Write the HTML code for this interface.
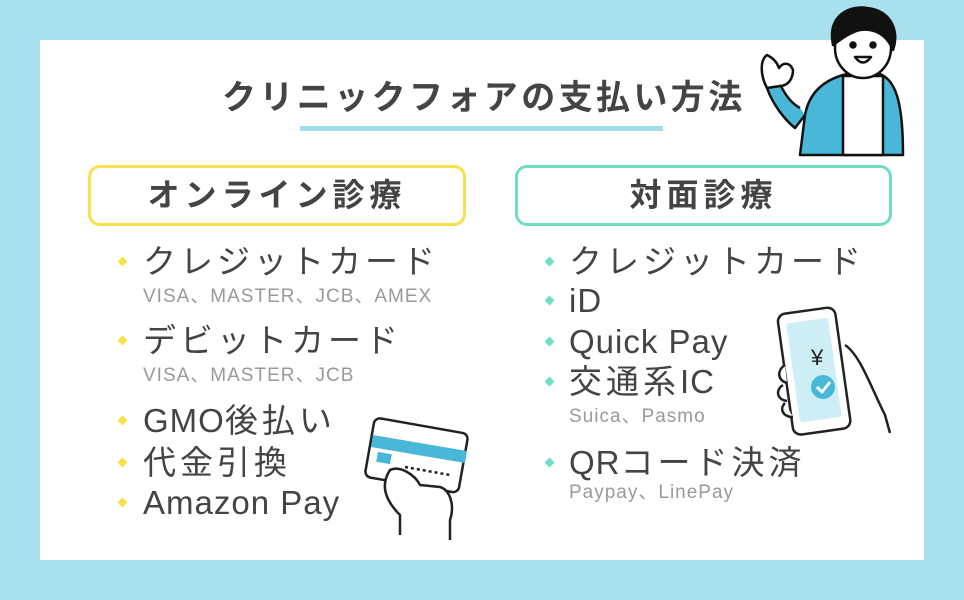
<!DOCTYPE html>
<html><head><meta charset="utf-8"><style>
body{margin:0;width:964px;height:600px;background:#a9e0ee;position:relative;overflow:hidden;font-family:"Liberation Sans","Noto Sans CJK JP",sans-serif;color:#444}
.panel{position:absolute;left:40px;top:40px;width:884px;height:520px;background:#fff}
.t{position:absolute;white-space:nowrap}
.title{left:222px;top:70px;font-size:34px;font-weight:bold;letter-spacing:3.4px}
.ul{position:absolute;left:300px;top:126px;width:363px;height:5px;background:#a2dcec}
.box{position:absolute;top:165px;height:55px;border-radius:12px;font-size:32px;font-weight:bold;text-align:center;line-height:55px;letter-spacing:5px}
.it{font-size:33px;letter-spacing:4px;line-height:1}
.l{letter-spacing:1px}
.sub{font-size:19px;color:#999;letter-spacing:1px;line-height:1}
.d{position:absolute;width:7px;height:7px;transform:rotate(45deg)}
.y{background:#f8e04a}.g{background:#6fdcc4}
</style></head><body>
<div class="panel"></div>
<div class="t title">クリニックフォアの支払い方法</div>
<div class="ul"></div>
<div class="box" style="left:88px;width:372px;border:3px solid #f8e04a">オンライン診療</div>
<div class="box" style="left:515px;width:371px;border:3px solid #6fdcc4">対面診療</div>

<div class="d y" style="left:119px;top:258px"></div><div class="t it" style="left:143px;top:245px">クレジットカード</div>
<div class="t sub" style="left:143px;top:287px">VISA、MASTER、JCB、AMEX</div>
<div class="d y" style="left:119px;top:337px"></div><div class="t it" style="left:143px;top:324px">デビットカード</div>
<div class="t sub" style="left:143px;top:366px">VISA、MASTER、JCB</div>
<div class="d y" style="left:119px;top:417px"></div><div class="t it" style="left:143px;top:404px"><span class="l">GMO</span>後払い</div>
<div class="d y" style="left:119px;top:459px"></div><div class="t it" style="left:143px;top:446px">代金引換</div>
<div class="d y" style="left:119px;top:499px"></div><div class="t it l" style="left:143px;top:486px">Amazon Pay</div>

<div class="d g" style="left:546px;top:258px"></div><div class="t it" style="left:569px;top:245px">クレジットカード</div>
<div class="d g" style="left:546px;top:297px"></div><div class="t it l" style="left:569px;top:284px">iD</div>
<div class="d g" style="left:546px;top:338px"></div><div class="t it l" style="left:569px;top:325px">Quick Pay</div>
<div class="d g" style="left:546px;top:378px"></div><div class="t it" style="left:569px;top:365px">交通系<span class="l">IC</span></div>
<div class="t sub" style="left:569px;top:407px">Suica、Pasmo</div>
<div class="d g" style="left:546px;top:459px"></div><div class="t it" style="left:569px;top:446px"><span class="l">QR</span>コード決済</div>
<div class="t sub" style="left:569px;top:483px">Paypay、LinePay</div>

<svg style="position:absolute;left:355px;top:405px" width="120" height="140">
<g stroke="#222" stroke-width="2.5" fill="#fff" stroke-linejoin="round">
<rect x="14" y="20" width="95" height="60" rx="6" transform="rotate(10 60 50)"/>
<path d="M18 30 L112 46 L110 58 L16 42 Z" fill="#49b8d8" stroke="none"/>
<rect x="22" y="48" width="14" height="10" fill="#49b8d8" stroke="none" transform="rotate(10 29 53)"/>
<path d="M50 62 L95 70" stroke-dasharray="3 3"/>
<path d="M45 130 L45 110 C30 95 25 80 35 65 C45 60 60 70 65 80 L85 82 C95 85 100 100 95 115 L95 135" />
</g></svg>

<svg style="position:absolute;left:775px;top:305px" width="125" height="135">
<g stroke="#222" stroke-width="2.5" stroke-linejoin="round">
<rect x="10" y="5" width="58" height="122" rx="8" fill="#fff" transform="rotate(-8 40 65)"/>
<rect x="18" y="15" width="42" height="100" rx="3" fill="#cdeef5" stroke="none" transform="rotate(-8 40 65)"/>
<circle cx="48" cy="82" r="12" fill="#49b8d8" stroke="none"/>
<path d="M42 82 L47 87 L55 77" stroke="#fff" fill="none" stroke-width="3"/>
<text x="36" y="60" font-size="22" font-family="Liberation Sans" fill="#222" stroke="none">¥</text>
<path d="M70 40 C85 50 95 80 110 110 L115 128" fill="none"/>
<path d="M10 60 C2 65 2 75 12 78 M8 80 C0 85 2 95 12 96 M10 98 C4 104 8 112 18 112" fill="#fff"/>
</g></svg>

<svg style="position:absolute;left:755px;top:0" width="150" height="158">
<g stroke="#111" stroke-width="2.5" stroke-linejoin="round">
<path d="M45 155 L50 115 C55 88 75 78 92 74 L125 74 C140 80 148 100 148 155 Z" fill="#49b8d8"/>
<path d="M88 76 L88 155 L128 155 L128 76 Z" fill="#fff"/>
<path d="M50 115 L40 128 C30 120 18 105 12 88 L25 84 C30 95 36 103 45 108" fill="#49b8d8"/>
<path d="M12 88 C5 75 5 60 12 55 C18 58 22 62 24 68 C28 62 35 62 38 70 C38 80 32 86 25 86 Z" fill="#fff"/>
<ellipse cx="108" cy="48" rx="28" ry="30" fill="#fff"/>
<path d="M78 45 C72 15 95 5 112 8 C135 10 145 30 138 50 C132 35 120 28 105 30 C95 32 85 40 78 45 Z" fill="#111"/>
<circle cx="98" cy="45" r="2.5" fill="#111"/><circle cx="118" cy="45" r="2.5" fill="#111"/>
<path d="M100 57 Q108 68 116 57 Z" fill="#fff"/>
</g></svg>
</body></html>
